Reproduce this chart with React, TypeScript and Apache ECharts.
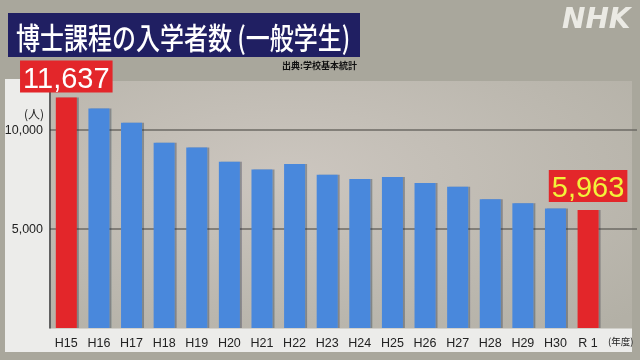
import React, { useEffect, useRef } from "react";
import * as echarts from "echarts";

const categories = ["H15", "H16", "H17", "H18", "H19", "H20", "H21", "H22", "H23", "H24", "H25", "H26", "H27", "H28", "H29", "H30", "R 1", "(年度)"];
const enrolments = [11637, 11080, 10370, 9360, 9120, 8400, 8010, 8280, 7740, 7520, 7620, 7320, 7140, 6500, 6300, 6030, 5963];
const highlighted = ["H15", "R 1"];
const yTicks = [0, 5000, 10000];
const titleText = "博士課程の入学者数 (一般学生)";
const sourceText = "出典:学校基本統計";
const unitText = "(人)";

const BLUE = "#4a88dc";
const RED = "#e3262a";
const NUM_FONT = "Liberation Sans";
const JP_FONT = "Noto Sans CJK JP";

export default function App() {
  const ref = useRef<HTMLDivElement>(null);
  useEffect(() => {
    if (!ref.current) return;
    const chart = echarts.init(ref.current, undefined, { renderer: "svg" });
    const data = enrolments.map((v, i) => {
      const hi = highlighted.includes(categories[i]);
      const last = i === enrolments.length - 1;
      return {
        value: v,
        itemStyle: { color: hi ? RED : BLUE },
        label: hi
          ? {
              show: true,
              position: "top",
              distance: last ? 8 : 5,
              formatter: (p: any) => Number(p.value).toLocaleString("en-US"),
              backgroundColor: RED,
              color: last ? "#f2f23a" : "#ffffff",
              fontFamily: NUM_FONT,
              fontSize: 29,
              lineHeight: 30,
              padding: [2, 3, 0, 3],
            }
          : { show: false },
      };
    });
    chart.setOption({
      animation: false,
      grid: { left: 50, right: 3, top: 90.4, bottom: 32 },
      graphic: [
        {
          type: "rect",
          z: 0,
          z2: 0,
          shape: { x: 0, y: 0, width: 640, height: 360 },
          style: { fill: "#a9a79c" },
        },
        {
          type: "rect",
          z: 0,
          z2: 1,
          shape: { x: 5, y: 81, width: 627, height: 271 },
          style: {
            fill: new echarts.graphic.RadialGradient(0.45, 0.35, 0.75, [
              { offset: 0, color: "#ccc6bf" },
              { offset: 1, color: "#b3b0a6" },
            ]),
          },
        },
        { type: "rect", z: 0, z2: 2, shape: { x: 5, y: 79, width: 46, height: 273 }, style: { fill: "#ececea" } },
        { type: "rect", z: 0, z2: 2, shape: { x: 5, y: 328.5, width: 627, height: 23.5 }, style: { fill: "#ececea" } },
        { type: "rect", z: 5, shape: { x: 8, y: 13, width: 352, height: 44 }, style: { fill: "#201f62" } },
        {
          type: "text",
          z: 6,
          x: 16,
          y: 36,
          scaleX: 0.8,
          style: { text: titleText, fill: "#ffffff", font: `500 30px "${JP_FONT}"`, verticalAlign: "middle" },
        },
        {
          type: "text",
          z: 6,
          x: 282,
          y: 65,
          style: { text: sourceText, fill: "#111111", font: `bold 9px "${JP_FONT}"`, verticalAlign: "middle" },
        },
        {
          type: "text",
          z: 6,
          x: 562,
          y: 18,
          style: { text: "NHK", fill: "rgba(242,242,236,0.9)", font: `italic bold 28px "DejaVu Sans"`, verticalAlign: "middle" },
        },
        {
          type: "text",
          z: 6,
          x: 44,
          y: 113,
          style: { text: unitText, fill: "#222222", font: `12px "${JP_FONT}"`, align: "right", verticalAlign: "middle" },
        },
      ],
      xAxis: {
        type: "category",
        data: categories,
        z: 3,
        axisLine: { show: false },
        axisTick: { show: false },
        axisLabel: {
          interval: 0,
          margin: 8,
          color: "#222222",
          fontFamily: NUM_FONT,
          fontSize: 12.5,
          formatter: (v: string) => (v === "(年度)" ? `{s|${v}}` : v),
          rich: { s: { fontSize: 9.5, fontFamily: JP_FONT, color: "#222222" } },
        },
      },
      yAxis: {
        type: "value",
        z: 1,
        min: yTicks[0],
        max: 12000,
        interval: yTicks[1] - yTicks[0],
        axisLine: { show: true, lineStyle: { color: "#333333", width: 1.5 } },
        axisTick: { show: false },
        axisLabel: {
          margin: 7,
          color: "#222222",
          fontFamily: NUM_FONT,
          fontSize: 12.5,
          formatter: (v: number) => (yTicks.includes(v) && v !== 0 ? v.toLocaleString("en-US") : ""),
        },
        splitLine: { show: true, showMinLine: false, showMaxLine: false, lineStyle: { color: "#6d6a65", width: 1.5 } },
      },
      series: [
        {
          type: "bar",
          data,
          barWidth: 21,
          z: 2,
          itemStyle: { shadowColor: "rgba(30,40,60,0.35)", shadowOffsetX: 2, shadowBlur: 0 },
        },
      ],
    });
    return () => chart.dispose();
  }, []);
  return <div ref={ref} style={{ position: "fixed", left: 0, top: 0, width: 640, height: 360 }} />;
}
